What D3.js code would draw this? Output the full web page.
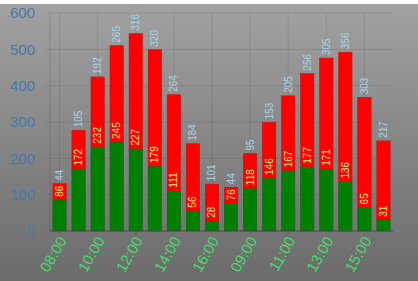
<!DOCTYPE html>
<html>
<head>
<meta charset="utf-8">
<script src="https://cdn.jsdelivr.net/npm/d3@7"></script>
<style>
  body { margin: 0; background: #fff; }
  svg { display: block; font-family: "Liberation Sans", Arial, sans-serif; }
</style>
</head>
<body>
<div id="chart"></div>
<script>
// two days of hourly counts, stacked: green = lower part, red = upper part
const hours = ["08:00", "09:00", "10:00", "11:00", "12:00", "13:00", "14:00", "15:00", "16:00",
               "08:00", "09:00", "10:00", "11:00", "12:00", "13:00", "14:00", "15:00", "16:00"];
const greenValues = [86, 172, 232, 245, 227, 179, 111, 56, 28, 76, 118, 146, 167, 177, 171, 136, 65, 31];
const redValues = [44, 105, 192, 265, 316, 320, 264, 184, 101, 44, 95, 153, 205, 256, 305, 356, 303, 217];
const yTicks = [0, 100, 200, 300, 400, 500, 600];

const width = 418, height = 281;
const margin = {top: 13, right: 25, bottom: 50, left: 50};

const svg = d3.select("#chart").append("svg")
  .attr("width", width)
  .attr("height", height);

const defs = svg.append("defs");
const grad = defs.append("linearGradient")
  .attr("id", "bg").attr("x1", 0).attr("y1", 0).attr("x2", 0).attr("y2", 1);
grad.append("stop").attr("offset", "0%").attr("stop-color", "#a2a2a2");
grad.append("stop").attr("offset", "100%").attr("stop-color", "#6b6b6b");

svg.append("rect").attr("width", width).attr("height", height).attr("fill", "url(#bg)");
svg.append("rect").attr("width", width).attr("height", 4).attr("fill", "#ffffff");

const idx = d3.range(hours.length);

const x = d3.scaleBand()
  .domain(idx)
  .range([margin.left, width - margin.right])
  .paddingInner(0.3)
  .paddingOuter(0.15);

const y = d3.scaleLinear()
  .domain([0, 600])
  .range([height - margin.bottom, margin.top]);

// grid
svg.append("g")
  .attr("stroke", "#000").attr("stroke-opacity", 0.09)
  .selectAll("line.h")
  .data(yTicks.slice(1))
  .join("line")
    .attr("x1", margin.left - 5).attr("x2", width - margin.right)
    .attr("y1", d => y(d)).attr("y2", d => y(d));

const labeled = idx.filter(i => i % 2 === 0);
svg.append("g")
  .attr("stroke", "#000").attr("stroke-opacity", 0.09)
  .selectAll("line")
  .data(labeled)
  .join("line")
    .attr("x1", i => x(i) + x.bandwidth() / 2).attr("x2", i => x(i) + x.bandwidth() / 2)
    .attr("y1", margin.top).attr("y2", height - margin.bottom + 6);

svg.append("line")
  .attr("x1", margin.left).attr("x2", margin.left)
  .attr("y1", margin.top).attr("y2", height - margin.bottom)
  .attr("stroke", "#000").attr("stroke-opacity", 0.12);

// y axis
const yAxis = svg.append("g")
  .attr("transform", `translate(${margin.left},0)`)
  .call(d3.axisLeft(y).tickValues(yTicks).tickSize(0).tickPadding(15));
yAxis.select(".domain").remove();
yAxis.selectAll("text")
  .attr("fill", "#4a78ac")
  .attr("font-size", 15)
  .attr("font-family", "Liberation Sans, Arial, sans-serif");

// bars
const g = svg.append("g");
g.selectAll("rect.green")
  .data(idx)
  .join("rect")
    .attr("class", "green")
    .attr("x", i => x(i))
    .attr("width", x.bandwidth())
    .attr("y", i => y(greenValues[i]))
    .attr("height", i => y(0) - y(greenValues[i]))
    .attr("fill", "#008000")
    .attr("stroke", "#0a6a0a").attr("stroke-width", 0.6);

g.selectAll("rect.red")
  .data(idx)
  .join("rect")
    .attr("class", "red")
    .attr("x", i => x(i))
    .attr("width", x.bandwidth())
    .attr("y", i => y(greenValues[i] + redValues[i]))
    .attr("height", i => y(greenValues[i]) - y(greenValues[i] + redValues[i]))
    .attr("fill", "#ff0000")
    .attr("stroke", "#d01010").attr("stroke-width", 0.6);

// x axis
svg.append("line")
  .attr("x1", margin.left).attr("x2", width - margin.right)
  .attr("y1", y(0)).attr("y2", y(0))
  .attr("stroke", "#4a4a4a").attr("stroke-width", 1.2);

svg.append("g")
  .selectAll("text")
  .data(labeled)
  .join("text")
    .attr("transform", i => `translate(${x(i) + x.bandwidth() / 2 + 3},${y(0) + 7}) rotate(-60)`)
    .attr("text-anchor", "end")
    .attr("dy", "0.35em")
    .attr("fill", "#47dc6a")
    .attr("font-size", 15)
    .text(i => hours[i]);

// value labels: green value inside the red part, red value above the bar
g.selectAll("text.gv")
  .data(idx)
  .join("text")
    .attr("class", "gv")
    .attr("transform", i => `translate(${x(i) + x.bandwidth() / 2},${y(greenValues[i]) - 3}) rotate(-90)`)
    .attr("dy", "0.35em")
    .attr("fill", "#eeee7a")
    .attr("font-size", 10)
    .text(i => greenValues[i]);

g.selectAll("text.rv")
  .data(idx)
  .join("text")
    .attr("class", "rv")
    .attr("transform", i => `translate(${x(i) + x.bandwidth() / 2},${y(greenValues[i] + redValues[i]) - 3}) rotate(-90)`)
    .attr("dy", "0.35em")
    .attr("fill", "#a9d3e4")
    .attr("font-size", 10)
    .text(i => redValues[i]);
</script>
</body>
</html>
